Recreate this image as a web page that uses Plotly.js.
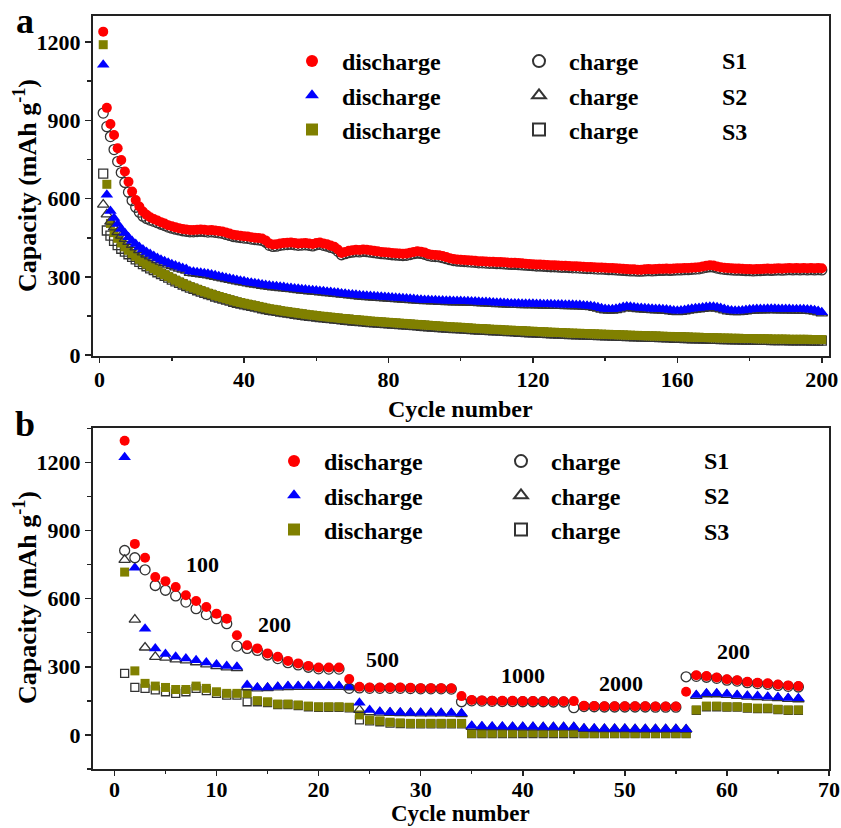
<!DOCTYPE html>
<html>
<head>
<meta charset="utf-8">
<script src="https://cdn.plot.ly/plotly-3.0.1.min.js"></script>
<style>html,body{margin:0;padding:0;background:#fff}#chart{width:841px;height:828px}</style>
</head>
<body>
<div id="chart"></div>
<script>
// ---------- Panel a: cycling performance (200 cycles) ----------
const cyclesA = Array.from({length: 200}, (_, i) => i + 1);

const aS1Discharge = [
1240,948,886,844,793,748,704,665,627,595,
570,551,538,529,522,516,510,505,498,494,
490,487,484,482,480,480,481,482,481,479,
480,478,476,474,470,466,462,460,458,456,
455,452,450,449,447,440,428,424,425,428,
430,431,432,430,428,429,430,428,426,430,
432,428,425,420,416,405,392,396,400,402,
404,403,405,404,402,400,398,396,395,394,
392,391,390,389,390,393,396,398,397,394,
388,385,384,383,380,376,372,369,367,366,
365,364,363,362,360,360,359,358,358,357,
357,356,355,354,354,353,352,351,350,349,
348,348,347,346,345,345,344,343,343,342,
341,341,340,339,338,338,337,336,336,335,
334,334,333,332,331,330,329,329,328,328,
329,330,329,330,331,331,332,331,332,333,
333,334,334,335,336,337,340,343,345,344,
340,337,335,334,333,332,332,331,330,330,
329,330,330,331,332,331,332,333,332,333,
334,333,334,333,334,333,334,333,334,333];
const aS1Charge = [
928,876,838,788,742,700,662,625,593,567,
548,533,524,518,513,508,502,497,491,487,
483,480,477,475,473,473,474,475,474,472,
473,471,469,467,463,459,455,453,451,449,
448,445,443,442,440,433,421,417,418,421,
423,424,425,423,421,422,423,421,419,423,
425,421,418,413,409,398,385,389,393,395,
397,396,398,397,395,393,391,389,388,387,
385,384,383,382,383,386,389,391,390,387,
382,379,378,377,374,370,366,363,361,360,
359,358,357,356,354,354,353,352,352,351,
351,350,349,348,348,347,346,345,344,343,
342,342,341,340,339,339,338,337,337,336,
335,335,334,333,332,332,331,330,330,329,
328,328,327,326,325,324,323,323,322,322,
323,324,323,324,325,325,326,325,326,327,
327,328,328,329,330,331,334,337,339,338,
334,331,329,328,327,326,326,325,324,324,
323,324,324,325,326,325,326,327,326,327,
328,327,328,327,328,327,328,327,328,327];
const aS2Discharge = [
1113,615,553,526,503,484,468,452,438,426,
415,405,396,388,380,373,366,360,354,349,
344,339,334,330,322,320,318,316,314,312,
309,306,303,300,297,294,291,288,285,283,
280,278,276,274,271,269,267,265,264,262,
261,259,258,256,255,253,252,250,249,248,
246,245,243,242,240,239,237,236,234,233,
232,230,229,228,227,226,225,224,223,222,
221,220,219,218,217,216,215,214,213,212,
212,211,211,210,210,209,209,208,208,208,
207,207,206,206,205,204,204,203,202,201,
201,200,199,198,198,198,197,197,197,197,
196,196,195,195,195,194,194,194,193,193,
193,192,192,191,190,189,187,184,180,177,
176,176,178,181,185,187,186,184,182,181,
180,179,178,177,177,176,175,173,171,170,
171,173,176,178,180,181,183,185,186,186,
184,181,177,173,171,170,170,171,173,175,
176,177,177,177,178,178,178,177,177,177,
177,176,176,176,176,175,174,172,169,165];
const aS2Charge = [
577,540,512,490,472,458,446,434,423,413,
403,394,386,379,372,365,359,353,347,342,
337,332,328,324,316,314,312,310,308,306,
303,300,297,295,292,289,286,283,280,278,
275,273,271,269,266,264,262,260,259,257,
256,254,253,251,250,248,247,245,244,243,
241,240,238,237,235,234,232,231,229,228,
227,225,224,223,222,221,220,219,218,217,
216,215,214,213,212,211,210,209,208,207,
207,206,206,205,205,204,204,203,203,203,
202,202,201,201,200,199,199,198,197,196,
196,195,194,193,193,193,192,192,192,192,
191,191,190,190,190,189,189,189,188,188,
188,187,187,186,185,184,182,179,175,172,
171,171,173,176,180,182,181,179,177,176,
175,174,173,172,172,171,170,168,166,165,
166,168,171,173,175,176,178,180,181,181,
179,176,172,168,166,165,165,166,168,170,
171,172,172,172,173,173,173,172,172,172,
172,171,171,171,171,170,169,167,164,160];
const aS3Discharge = [
1190,655,505,470,448,430,415,402,390,379,
368,358,349,340,332,324,316,309,302,295,
288,281,275,269,263,258,253,248,243,238,
234,229,225,221,217,213,209,205,202,199,
196,193,190,187,184,181,178,176,174,171,
169,167,165,163,161,159,157,155,154,152,
150,149,147,146,144,143,141,140,139,137,
136,135,134,132,131,130,129,128,127,126,
125,124,123,122,121,120,119,118,117,116,
115,114,113,112,111,110,109,108,108,107,
106,105,104,103,102,102,101,100,99,99,
98,97,96,96,95,94,94,93,92,92,
91,90,90,89,88,88,87,87,86,85,
85,84,84,83,83,82,82,81,81,80,
80,79,79,78,78,77,77,76,76,75,
75,74,74,74,73,73,72,72,71,71,
71,70,70,69,69,69,68,68,67,67,
67,66,66,66,65,65,65,64,64,64,
64,63,63,63,63,62,62,62,62,62,
61,61,61,61,61,61,60,60,60,60];
const aS3Charge = [
696,478,458,438,422,408,397,387,377,367,
358,349,341,333,326,318,311,304,297,290,
283,277,271,265,259,254,249,244,239,234,
230,225,221,217,213,209,205,201,198,195,
192,189,186,183,180,177,174,172,170,167,
165,163,161,159,157,155,153,151,150,148,
146,145,143,142,140,139,137,136,135,133,
132,131,130,128,127,126,125,124,123,122,
121,120,119,118,117,116,115,114,113,112,
111,110,109,108,107,106,105,104,104,103,
102,101,100,99,98,98,97,96,95,95,
94,93,92,92,91,90,90,89,88,88,
87,86,86,85,84,84,83,83,82,81,
81,80,80,79,79,78,78,77,77,76,
76,75,75,74,74,73,73,72,72,71,
71,70,70,70,69,69,68,68,67,67,
67,66,66,65,65,65,64,64,63,63,
63,62,62,62,61,61,61,60,60,60,
60,59,59,59,59,58,58,58,58,58,
57,57,57,57,57,57,56,56,56,56];

// ---------- Panel b: rate performance (67 cycles) ----------
const cyclesB = Array.from({length: 67}, (_, i) => i + 1);

const bS1Discharge = [1295,841,780,695,677,651,615,590,563,534,512,439,395,381,359,344,326,315,304,297,297,297,246,212,209,209,209,209,208,206,206,206,205,171,154,152,151,150,150,149,149,148,148,148,149,128,127,126,126,126,126,126,125,125,125,190,263,259,253,245,241,234,230,227,222,218,215];
const bS1Charge    = [812,780,727,658,637,612,585,556,530,512,490,391,381,372,352,336,318,308,298,291,290,290,205,207,205,205,205,205,204,203,203,203,202,146,150,149,148,147,147,146,146,146,145,145,120,125,124,123,123,123,123,123,122,122,122,256,258,254,249,241,237,230,226,223,218,214,211];
const bS2Discharge = [1222,736,468,380,356,344,337,329,319,310,303,300,220,209,209,212,215,215,215,215,215,215,212,142,110,102,100,99,98,98,98,97,97,95,40,38,37,37,36,36,36,35,35,35,35,28,28,27,27,27,26,26,26,26,26,25,176,183,183,180,176,173,171,168,166,163,161];
const bS2Charge    = [771,508,385,344,340,333,328,320,311,303,297,294,210,205,206,209,211,212,212,212,212,212,210,110,100,98,97,96,96,95,95,95,94,92,36,35,34,34,34,33,33,33,33,33,33,27,26,26,26,26,25,25,25,25,25,24,172,179,179,176,172,169,167,164,162,159,157];
const bS3Discharge = [717,282,227,215,209,200,200,215,205,190,183,183,183,151,146,136,136,132,127,124,124,124,122,88,66,62,56,53,51,51,51,51,51,51,7,8,8,9,9,10,10,10,10,10,10,7,7,7,7,7,7,7,7,7,7,7,110,127,127,124,124,120,118,118,113,110,110];
const bS3Charge    = [271,209,205,198,190,183,190,205,195,183,175,175,146,146,142,133,133,129,124,121,121,121,119,66,62,58,52,50,49,49,49,49,49,49,6,6,6,6,6,6,6,6,6,6,6,6,6,6,6,6,6,6,6,6,6,6,108,124,124,122,122,118,116,116,111,108,108];

const rateLabels = ['100', '200', '500', '1000', '2000', '200'];
const rateLabelX = [8.6, 15.7, 26.3, 40, 49.6, 60.6];
const rateLabelY = [750, 486, 332, 263, 227, 366];

const sampleNames = ['S1', 'S2', 'S3'];
const yTitleText = 'Capacity (mAh g<sup>-1</sup>)';
const xTitleText = 'Cycle number';

// ---------- styling ----------
const RED = '#ff0000', BLUE = '#0000ff', OLIVE = '#808000', DARK = '#222222';
const FONT = 'Liberation Serif, Times New Roman, serif';

// pixel helpers (layout only)
const L = 93, R = 12, T = 16, B = 59, W = 841, H = 828;
const pw = W - L - R, ph = H - T - B;
const px = p => (p - L) / pw;
const py = p => (H - B - p) / ph;

function series(x, y, name, xa, ya, symbol, color, open, size, legend, rank) {
  return {
    type: 'scatter', mode: 'markers', x: x, y: y, name: name,
    xaxis: xa, yaxis: ya, legend: legend, legendrank: rank,
    cliponaxis: false,
    marker: open
      ? {symbol: symbol + '-open', size: size, color: '#333333', line: {color: '#333333', width: 1.3}}
      : {symbol: symbol, size: size, color: color, line: {width: 0}},
    hoverinfo: 'x+y'
  };
}

const data = [
  // panel a
  series(cyclesA, aS3Charge,    'charge',    'x',  'y',  'square',      OLIVE, true,  9, 'legend2', 3),
  series(cyclesA, aS3Discharge, 'discharge', 'x',  'y',  'square',      OLIVE, false, 9, 'legend', 3),
  series(cyclesA, aS2Charge,    'charge',    'x',  'y',  'triangle-up', BLUE,  true,  10, 'legend2', 2),
  series(cyclesA, aS2Discharge, 'discharge', 'x',  'y',  'triangle-up', BLUE,  false, 11, 'legend', 2),
  series(cyclesA, aS1Charge,    'charge',    'x',  'y',  'circle',      RED,   true,  10, 'legend2', 1),
  series(cyclesA, aS1Discharge, 'discharge', 'x',  'y',  'circle',      RED,   false, 10, 'legend', 1),
  // panel b
  series(cyclesB, bS3Charge,    'charge',    'x2', 'y2', 'square',      OLIVE, true,  8, 'legend4', 3),
  series(cyclesB, bS3Discharge, 'discharge', 'x2', 'y2', 'square',      OLIVE, false, 9, 'legend3', 3),
  series(cyclesB, bS2Charge,    'charge',    'x2', 'y2', 'triangle-up', BLUE,  true,  10, 'legend4', 2),
  series(cyclesB, bS2Discharge, 'discharge', 'x2', 'y2', 'triangle-up', BLUE,  false, 11, 'legend3', 2),
  series(cyclesB, bS1Charge,    'charge',    'x2', 'y2', 'circle',      RED,   true,  10, 'legend4', 1),
  series(cyclesB, bS1Discharge, 'discharge', 'x2', 'y2', 'circle',      RED,   false, 10, 'legend3', 1)
];

function axisBase(extra) {
  return Object.assign({
    showline: true, linecolor: DARK, linewidth: 2, mirror: true,
    ticks: 'outside', ticklen: 6, tickwidth: 1.5, tickcolor: DARK,
    showgrid: false, zeroline: false,
    tickfont: {family: FONT, size: 22, color: '#000', weight: 'bold'}
  }, extra);
}

function legendAt(left, top) {
  return {x: px(left), y: py(top), xanchor: 'left', yanchor: 'top',
    bgcolor: 'rgba(0,0,0,0)', borderwidth: 0, itemsizing: 'constant', itemwidth: 50,
    font: {family: FONT, size: 24, color: '#000', weight: 'bold'},
    itemclick: false, itemdoubleclick: false};
}

const annotations = [];
function note(text, x, y, size, extra) {
  annotations.push(Object.assign({text: text, xref: 'paper', yref: 'paper', x: px(x), y: py(y),
    xanchor: 'center', yanchor: 'middle', showarrow: false,
    font: {family: FONT, size: size, color: '#000', weight: 'bold'}}, extra || {}));
}
// panel letters
note('a', 25, 21, 36);
note('b', 25, 424, 36);
// axis titles
note(yTitleText, 25, 186, 26, {textangle: -90});
note(yTitleText, 25, 598, 26, {textangle: -90});
note(xTitleText, 460, 409, 24);
note(xTitleText, 460, 828, 23, {yanchor: 'bottom'});
// sample labels
const sRowsA = [61.5, 96.5, 131.5], sRowsB = [461.5, 495.5, 531.5];
sampleNames.forEach((s, i) => {
  note(s, 720, sRowsA[i], 24, {xanchor: 'left'});
  note(s, 702, sRowsB[i], 24, {xanchor: 'left'});
});
// current-density labels in panel b
rateLabels.forEach((t, i) => annotations.push({
  text: t, xref: 'x2', yref: 'y2', x: rateLabelX[i], y: rateLabelY[i],
  xanchor: 'center', yanchor: 'middle', showarrow: false,
  font: {family: FONT, size: 22, color: '#000', weight: 'bold'}
}));

const xMinorA = {ticks: 'outside', ticklen: 3, tickwidth: 1.5, tickcolor: DARK, dtick: 20, tick0: 0};
const xMinorB = {ticks: 'outside', ticklen: 3, tickwidth: 1.5, tickcolor: DARK, dtick: 5, tick0: 0};
const yMinor = {ticks: 'outside', ticklen: 4, tickwidth: 1.5, tickcolor: DARK, dtick: 150, tick0: 0};

const layout = {
  width: W, height: H,
  margin: {l: L, r: R, t: T, b: B},
  paper_bgcolor: '#fff', plot_bgcolor: '#fff',
  font: {family: FONT, color: '#000', weight: 'bold'},
  showlegend: true,
  xaxis: axisBase({domain: [0, 1], anchor: 'y', range: [-1.83, 202], tickvals: [0, 40, 80, 120, 160, 200],
    ticklen: 5, ticklabelstandoff: -2, minor: xMinorA}),
  yaxis: axisBase({domain: [py(356), 1], anchor: 'x', range: [-3, 1300], tickvals: [0, 300, 600, 900, 1200],
    minor: yMinor}),
  xaxis2: axisBase({domain: [0, 1], anchor: 'y2', range: [-2.1, 70], tickvals: [0, 10, 20, 30, 40, 50, 60, 70],
    ticklen: 5, ticklabelstandoff: -5, minor: xMinorB}),
  yaxis2: axisBase({domain: [0, py(428.3)], anchor: 'x2', range: [-150, 1350], tickvals: [0, 300, 600, 900, 1200],
    minor: yMinor}),
  legend: legendAt(282, 39),
  legend2: legendAt(509, 39),
  legend3: legendAt(264, 439),
  legend4: legendAt(491, 439),
  annotations: annotations
};

Plotly.newPlot('chart', data, layout, {displayModeBar: false, staticPlot: true});
</script>
</body>
</html>
